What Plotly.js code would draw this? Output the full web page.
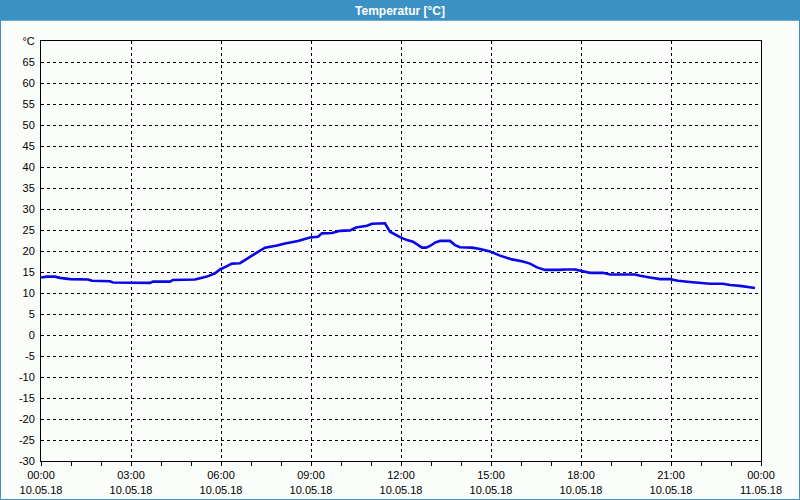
<!DOCTYPE html>
<html>
<head>
<meta charset="utf-8">
<script src="https://cdn.plot.ly/plotly-3.0.1.min.js"></script>
<style>
  html, body { margin: 0; padding: 0; background: #ffffff; }
  #chart { width: 800px; height: 500px; }
</style>
</head>
<body>
<div id="chart"></div>
<script>
// ---- Data ----
const day = "2018-05-10";
const times = [
  "00:00","00:12","00:28","00:38","00:58","01:34","01:42","02:18","02:24","03:38",
  "03:44","04:18","04:24","05:08","05:18","05:32","05:48","05:58","06:12","06:22",
  "06:38","06:44","06:58","07:14","07:28","07:52","08:08","08:34","08:58","09:14",
  "09:22","09:42","09:58","10:18","10:30","10:52","11:02","11:28","11:38","11:58",
  "12:12","12:24","12:34","12:42","12:50","12:58","13:08","13:18","13:38","13:48",
  "13:58","14:22","14:38","14:58","15:18","15:42","16:04","16:18","16:32","16:48",
  "17:18","17:28","17:48","18:02","18:18","18:44","18:58","19:48","19:58","20:18",
  "20:38","20:58","21:14","21:38","21:58","22:18","22:44","22:58","23:18","23:34",
  "23:48"
];
const temps = [
  13.7,13.9,13.9,13.6,13.3,13.2,12.9,12.8,12.5,12.4,
  12.7,12.7,13.1,13.2,13.5,13.9,14.7,15.6,16.4,17.0,
  17.1,17.5,18.6,19.8,20.8,21.3,21.8,22.4,23.2,23.4,
  24.2,24.3,24.8,24.9,25.6,26.0,26.5,26.6,24.6,23.3,
  22.6,22.2,21.4,20.8,20.8,21.2,22.0,22.4,22.4,21.4,
  20.9,20.8,20.5,19.9,18.9,18.0,17.5,17.0,16.1,15.5,
  15.5,15.6,15.6,15.2,14.8,14.8,14.4,14.4,14.1,13.7,
  13.3,13.3,12.9,12.6,12.4,12.2,12.2,11.9,11.7,11.35,
  11.2
];
const xTickVals = [
  "2018-05-10 00:00","2018-05-10 03:00","2018-05-10 06:00","2018-05-10 09:00",
  "2018-05-10 12:00","2018-05-10 15:00","2018-05-10 18:00","2018-05-10 21:00",
  "2018-05-11 00:00"
];
const xTickText = [
  "00:00<br>10.05.18","03:00<br>10.05.18","06:00<br>10.05.18","09:00<br>10.05.18",
  "12:00<br>10.05.18","15:00<br>10.05.18","18:00<br>10.05.18","21:00<br>10.05.18",
  "00:00<br>11.05.18"
];
const yTickVals = [-30,-25,-20,-15,-10,-5,0,5,10,15,20,25,30,35,40,45,50,55,60,65,70];
const yTickText = ["-30","-25","-20","-15","-10","-5","0","5","10","15","20","25","30","35","40","45","50","55","60","65","°C"];
const chartTitle = "Temperatur [°C]";

const xs = times.map(t => day + " " + t);

// ---- Layout geometry ----
const W = 800, H = 500;
const mL = 41, mR = 39, mT = 41, mB = 39;
const pw = W - mL - mR, ph = H - mT - mB;
const px = x => (x - mL) / pw;          // pixel x -> paper x
const py = y => (H - mB - y) / ph;      // pixel y -> paper y
const blue = "#3b91c4";

const trace = {
  x: xs, y: temps, type: "scatter", mode: "lines",
  line: { color: "#0808e8", width: 2.6 },
  hoverinfo: "x+y"
};

const layout = {
  width: W, height: H,
  margin: { l: mL, r: mR, t: mT, b: mB, pad: 0 },
  paper_bgcolor: "#fbfdfb",
  plot_bgcolor: "#fbfdfb",
  font: { family: "Liberation Sans, Arial, sans-serif", size: 11, color: "#000000" },
  showlegend: false,
  title: {
    text: "<b>" + chartTitle + "</b>",
    font: { family: "Liberation Sans, Arial, sans-serif", size: 12, color: "#ffffff" },
    x: 0.5, xref: "container", xanchor: "center",
    y: 1 - 10.5 / H, yref: "container", yanchor: "middle"
  },
  xaxis: {
    type: "date",
    range: [xTickVals[0], xTickVals[xTickVals.length - 1]],
    tickmode: "array", tickvals: xTickVals, ticktext: xTickText,
    ticks: "", showgrid: true, gridcolor: "#000000", gridwidth: 1, griddash: "3px,3px",
    showline: true, linecolor: "#000000", linewidth: 1, mirror: true,
    zeroline: false, ticklabelstandoff: 4,
    minor: { dtick: 3600000, tick0: xTickVals[0], ticks: "outside", ticklen: 4, tickcolor: "#000000", tickwidth: 1, showgrid: false },
    fixedrange: true
  },
  yaxis: {
    range: [-30, 70],
    tickmode: "array", tickvals: yTickVals, ticktext: yTickText,
    ticks: "", showgrid: true, gridcolor: "#000000", gridwidth: 1, griddash: "3px,3px",
    showline: true, linecolor: "#000000", linewidth: 1, mirror: true,
    zeroline: false, ticklabelstandoff: 3,
    fixedrange: true
  },
  shapes: [
    { type: "rect", xref: "paper", yref: "paper", layer: "below",
      x0: px(0), x1: px(W), y0: py(20.5), y1: py(0),
      fillcolor: blue, line: { width: 0 } },
    { type: "rect", xref: "paper", yref: "paper", layer: "above",
      x0: px(0.5), x1: px(W - 0.5), y0: py(H - 0.5), y1: py(20),
      fillcolor: "rgba(0,0,0,0)", line: { color: blue, width: 1 } }
  ]
};

Plotly.newPlot("chart", [trace], layout, { displayModeBar: false, staticPlot: true });
</script>
</body>
</html>
